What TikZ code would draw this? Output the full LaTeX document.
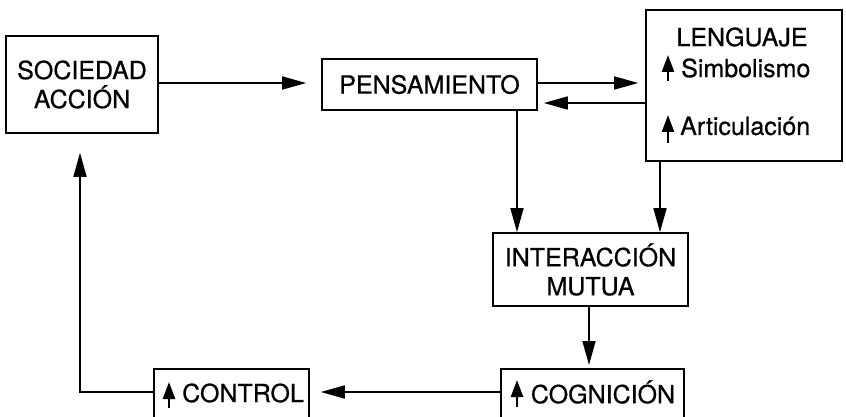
\documentclass[tikz,border=0pt]{standalone}
\usepackage{fontspec}
\setmainfont[FakeBold=0.6]{TeX Gyre Heros}
\usetikzlibrary{arrows.meta,calc}
\begin{document}
\begin{tikzpicture}[x=1pt,y=-1pt,
  every node/.style={font=\fontsize{25}{29}\selectfont, inner sep=0pt},
  box/.style={draw, line width=1.6pt, align=center},
  arr/.style={line width=1.6pt, -{Triangle[length=24pt,width=13pt]}},
  uparr/.style={line width=2.4pt, -{Triangle[length=17pt,width=12pt]}}]
\clip (0,0) rectangle (846,417);
\fill[white] (0,0) rectangle (846,417);
% boxes
\node[box, minimum width=152pt, minimum height=97pt] (soc) at (82,84.5) {SOCIEDAD\\ACCIÓN};
\node[box, minimum width=215pt, minimum height=51pt] (pen) at (429.5,84.5) {PENSAMIENTO};
\node[box, minimum width=196pt, minimum height=151pt] (len) at (744,85.5) {};
\node (lent) at (742,37) {LENGUAJE};
\node[anchor=west] (sim) at (681,68) {Simbolismo};
\node[anchor=west] (art) at (680,126) {Articulación};
\node[box, minimum width=195pt, minimum height=73pt] (int) at (590.5,269.5) {INTERACCIÓN\\MUTUA};
\node[box, anchor=north, minimum width=183pt, minimum height=80pt] (cog) at (592.5,368) {};
\node (cogt) at (603,392) {COGNICIÓN};
\node[box, anchor=north, minimum width=155pt, minimum height=80pt] (ctl) at (231.5,368) {};
\node (ctlt) at (243,393) {CONTROL};
% small up arrows
\coordinate (a1b) at (668,81); \coordinate (a1t) at (668,55);
\coordinate (a2b) at (668,143); \coordinate (a2t) at (668,115);
\coordinate (a3b) at (517,407); \coordinate (a3t) at (517,380);
\coordinate (a4b) at (169,408); \coordinate (a4t) at (169,382);
\draw[uparr] (a1b) -- (a1t);
\draw[uparr] (a2b) -- (a2t);
\draw[uparr] (a3b) -- (a3t);
\draw[uparr] (a4b) -- (a4t);
% connectors
\draw[arr, shorten >=15pt] ($(soc.east)+(0,-1.5)$) -- ($(pen.west)+(0,-1.5)$);
\draw[arr, shorten >=7pt] ($(pen.east)+(0,-1.5)$) -- ($(len.west)+(0,-2.5)$);
\draw[arr, shorten >=6pt] ($(len.west)+(0,17.5)$) -- ($(pen.east)+(0,18.5)$);
\draw[arr] ($(pen.south)+(87.5,0)$) -- ($(int.north)+(-73.5,0)$);
\draw[arr] ($(len.south)+(-84,0)$) -- ($(int.north)+(69.5,0)$);
\draw[arr, shorten >=3pt] ($(int.south)+(-1.5,0)$) -- ($(cog.north)+(-3.5,0)$);
\draw[arr, shorten >=11pt] (cog.west |- cogt) -- (ctl.east |- cogt);
\draw[arr, shorten >=19pt] (ctl.west |- cogt) -| ($(soc.south)+(-2,0)$);
\end{tikzpicture}
\end{document}
